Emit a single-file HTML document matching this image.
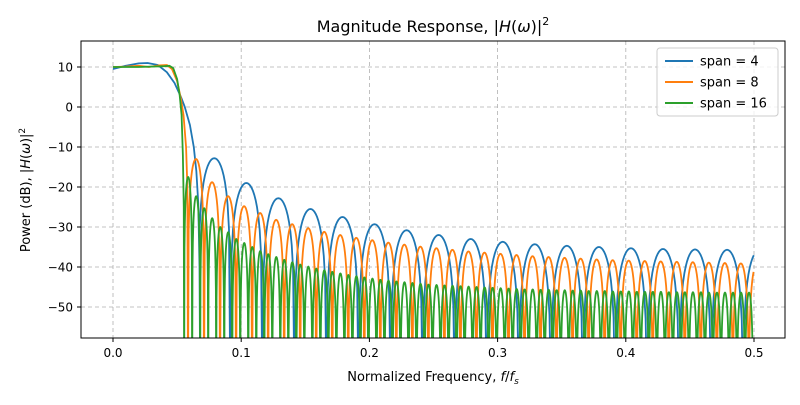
<!DOCTYPE html>
<html><head><meta charset="utf-8">
<style>
body{margin:0;background:#fff;}
svg{font-family:"DejaVu Sans","Liberation Sans",sans-serif;}
</style></head>
<body>
<svg id="chart" width="800" height="400" viewBox="0 0 800 400">
<defs><clipPath id="pa"><rect x="81" y="41" width="704" height="297"/></clipPath></defs>
<rect width="800" height="400" fill="#fff"/>
<text x="433" y="32" font-size="16" text-anchor="middle">Magnitude Response, |<tspan font-style="italic">H</tspan>(<tspan font-style="italic">ω</tspan>)|<tspan font-size="11" dy="-7">2</tspan></text>
<g id="grid"></g>
<g id="series" clip-path="url(#pa)"></g>
<rect x="81" y="41" width="704" height="297" fill="none" stroke="#000" stroke-width="1"/>
<g id="ticks"></g>
<text x="433" y="381" font-size="13" text-anchor="middle">Normalized Frequency, <tspan font-style="italic">f</tspan>/<tspan font-style="italic">f</tspan><tspan font-size="9" dy="3" font-style="italic">s</tspan></text>
<text transform="translate(30,190) rotate(-90)" font-size="13" text-anchor="middle">Power (dB), |<tspan font-style="italic">H</tspan>(<tspan font-style="italic">ω</tspan>)|<tspan font-size="9" dy="-5">2</tspan></text>
<g>
<rect x="657" y="48" width="121" height="68" rx="3" fill="#fff" fill-opacity="0.8" stroke="#ccc"/>
<g id="legend-items"></g>
</g>
</svg>
<script>
const xTicks=[0.0,0.1,0.2,0.3,0.4,0.5];
const yTicks=[10,0,-10,-20,-30,-40,-50];
const seriesNames=["span = 4","span = 8","span = 16"];
const seriesColors=["#1f77b4","#ff7f0e","#2ca02c"];
// main lobe points [freq, dB]
const mainBlue=[[0,9.5],[0.01,10.3],[0.02,10.9],[0.027,11],[0.035,10.5],[0.042,8.7],[0.048,6],[0.053,2.5],[0.056,0],[0.06,-4.5],[0.063,-10],[0.065,-16],[0.0665,-24],[0.0675,-40],[0.068,-70]];
const mainOrange=[[0,10],[0.01,10.1],[0.02,10.3],[0.028,10],[0.036,10.4],[0.042,10.5],[0.046,9.5],[0.05,6.5],[0.053,2],[0.055,-2],[0.057,-10],[0.058,-20],[0.0585,-70]];
const mainGreen=[[0,10],[0.02,10],[0.04,10.2],[0.044,10.3],[0.047,9.7],[0.05,7],[0.052,3],[0.0535,-2],[0.0545,-12],[0.0552,-25],[0.0555,-70]];
// sidelobe start & spacing
const lobeStart=[0.0665,0.0585,0.0555];
const lobeWidth=[0.025,0.0125,0.00625];
// sidelobe peak values (dB)
const peaksBlue=[-12.8,-19,-22.8,-25.5,-27.5,-29.3,-30.8,-32,-33,-33.7,-34.3,-34.7,-35,-35.3,-35.5,-35.6,-35.7,-35.8];
const peaksOrange=[-13,-18.8,-22.3,-24.8,-26.5,-28.2,-29.3,-30.3,-31.2,-32,-32.7,-33.3,-33.9,-34.4,-34.9,-35.3,-35.7,-36.1,-36.4,-36.7,-37,-37.3,-37.5,-37.7,-37.9,-38.1,-38.3,-38.4,-38.5,-38.6,-38.7,-38.8,-38.9,-39,-39.1,-39.2];
const peaksGreen=[-17.5,-22.3,-25.3,-27.8,-30,-31.3,-33,-34,-35,-36,-36.8,-37.5,-38.2,-38.8,-39.4,-39.9,-40.4,-40.8,-41.2,-41.6,-42,-42.3,-42.6,-42.9,-43.2,-43.4,-43.6,-43.8,-44,-44.2,-44.4,-44.5,-44.6,-44.7,-44.8,-44.9,-45,-45.1,-45.2,-45.3,-45.4,-45.5,-45.6,-45.6,-45.7,-45.7,-45.8,-45.8,-45.9,-45.9,-46,-46,-46,-46.1,-46.1,-46.1,-46.2,-46.2,-46.2,-46.2,-46.3,-46.3,-46.3,-46.3,-46.3,-46.4,-46.4,-46.4,-46.4,-46.4,-46.4,-46.4];

const NS="http://www.w3.org/2000/svg";
function X(f){return 113+(f-0)*(754-113)/0.5;}
function Y(d){return 67+(10-d)*(307-67)/60;}
function mk(t,a,p){const e=document.createElementNS(NS,t);for(const k in a)e.setAttribute(k,a[k]);p.appendChild(e);return e;}
const grid=document.getElementById('grid'),ticks=document.getElementById('ticks');
xTicks.forEach(v=>{
  const l=mk('line',{x1:X(v),x2:X(v),y1:41,y2:338,stroke:'#b0b0b0','stroke-dasharray':'4,3','stroke-width':0.8},grid);
  
  
  mk('line',{x1:X(v),x2:X(v),y1:338,y2:342,stroke:'#000'},ticks);
  const t=mk('text',{x:X(v),y:357,'font-size':12,'text-anchor':'middle'},ticks);
  t.textContent=v.toFixed(1);
  
  
});
yTicks.forEach(v=>{
  const l=mk('line',{x1:81,x2:785,y1:Y(v),y2:Y(v),stroke:'#b0b0b0','stroke-dasharray':'4,3','stroke-width':0.8},grid);
  
  
  mk('line',{x1:77,x2:81,y1:Y(v),y2:Y(v),stroke:'#000'},ticks);
  const t=mk('text',{x:73,y:Y(v)+4.5,'font-size':12,'text-anchor':'end'},ticks);
  t.textContent=(v<0?'\u2212'+(-v):String(v));
  
  
});
const mains=[mainBlue,mainOrange,mainGreen];
const peaks=[peaksBlue,peaksOrange,peaksGreen];
const sg=document.getElementById('series');
for(let s=0;s<3;s++){
  let pts=mains[s].map(p=>[X(p[0]),Y(p[1])]);
  const a0=lobeStart[s],w=lobeWidth[s];
  peaks[s].forEach((pk,k)=>{
    const a=a0+k*w;
    const N=24;
    for(let i=1;i<=N;i++){
      const f=a+w*i/N;
      if(f>0.5)break;
      const sv=Math.abs(Math.sin(Math.PI*i/N));
      const d=sv<1e-3?-70:Math.max(-70,pk+20*Math.log10(sv));
      pts.push([X(f),Y(d)]);
    }
  });
  const p=mk('polyline',{points:pts.map(q=>q[0].toFixed(2)+','+q[1].toFixed(2)).join(' '),fill:'none',stroke:seriesColors[s],'stroke-width':1.8,'stroke-linejoin':'round'},sg);
  
  
}
const lg=document.getElementById('legend-items');
seriesNames.forEach((n,i)=>{
  const y=61+i*21;
  const l=mk('line',{x1:665,x2:693,y1:y,y2:y,stroke:seriesColors[i],'stroke-width':2},lg);
  
  
  const t=mk('text',{x:700,y:y+4.5,'font-size':13},lg);
  t.textContent=n;
  
  
});
</script>
</body></html>
